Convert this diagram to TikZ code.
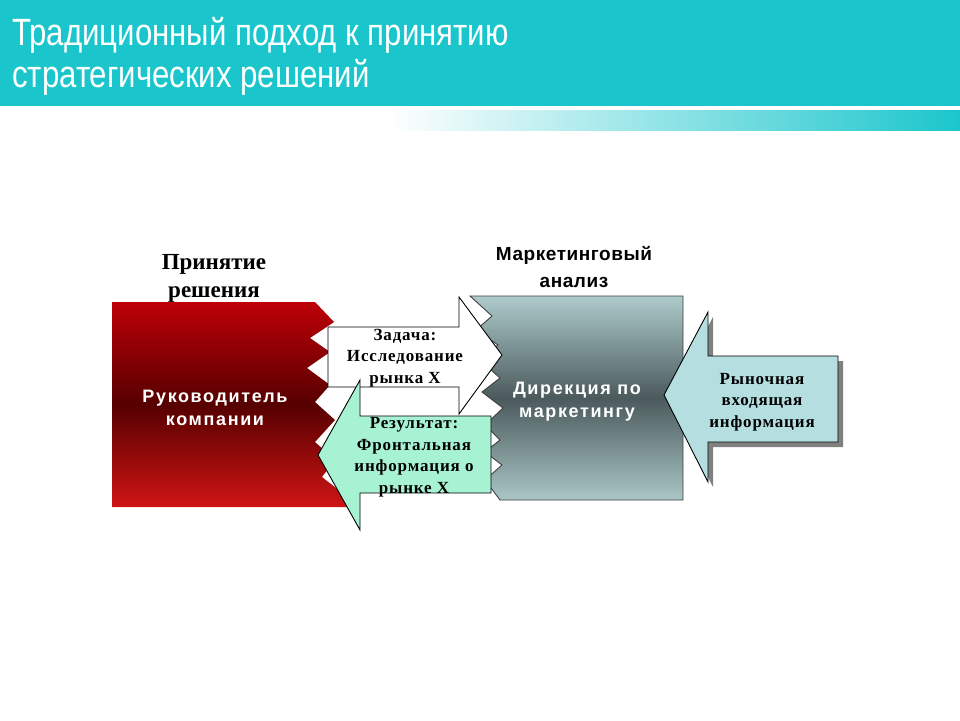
\documentclass[tikz,border=0pt]{standalone}
\usepackage{fontspec}
\setmainfont{Liberation Serif}
\setsansfont{Liberation Sans}
\newfontfamily\titlefont[FakeStretch=0.82]{Liberation Sans}
\newfontfamily\boxfont[LetterSpace=9]{Liberation Sans}
\newfontfamily\headfont[LetterSpace=3]{Liberation Sans}
\newfontfamily\arrfont[LetterSpace=5]{Liberation Serif}
\definecolor{teal1}{HTML}{1AC6CC}
\definecolor{redtop}{HTML}{BE0008}
\definecolor{reddark}{HTML}{560000}
\definecolor{redbot}{HTML}{D01414}
\definecolor{graytop}{HTML}{AECBCC}
\definecolor{graydark}{HTML}{4B5A5C}
\definecolor{graybot}{HTML}{AAC6C6}
\definecolor{mint}{HTML}{A8F2D4}
\definecolor{paleblue}{HTML}{B4DEE0}
\tikzset{
  titletext/.style={anchor=base west, text=white, inner sep=0pt, font=\titlefont\fontsize{38}{44}\selectfont},
  boxtext/.style={align=center, text=white, inner sep=0pt, font=\boxfont\bfseries\fontsize{18}{23}\selectfont},
  arrtext/.style={align=center, text=black, inner sep=0pt, font=\arrfont\bfseries\fontsize{17}{21.5}\selectfont},
  arrshape/.style={draw=black, line width=0.9pt, line join=miter},
}
\begin{document}
\begin{tikzpicture}[x=1pt,y=-1pt]
\useasboundingbox (0,0) rectangle (960,720);
\fill[white] (0,0) rectangle (960,720);
% header
\fill[teal1] (0,0) rectangle (960,106);
\shade[left color=white, right color=teal1] (390,110) rectangle (960,130);
\node[titletext] (t1) at (12,45) {Традиционный подход к принятию};
\node[titletext] (t2) at (12,87) {стратегических решений};
% headings
\node[align=center, inner sep=0pt, font=\bfseries\fontsize{23}{28}\selectfont] (h1) at (214,278) {Принятие\\решения};
\node[align=center, inner sep=0pt, font=\headfont\bfseries\fontsize{19}{27}\selectfont] (h2) at (574,267) {Маркетинговый\\анализ};
% red box
\shade[top color=redtop, bottom color=redbot, middle color=reddark]
  (112,302) -- (315,302) -- (334,322) -- (310,338) -- (330,352) -- (307,368) -- (330,385)
  -- (315,402) -- (335,420) -- (315,442) -- (335,460) -- (322,477) -- (345,495) -- (350,507)
  -- (112,507) -- cycle;
\node[boxtext] (ruk) at (215,408) {Руководитель\\компании};
% gray box
\shade[top color=graytop, bottom color=graybot, middle color=graydark]
  (470,296) -- (683,296) -- (683,500) -- (500,500) -- (485,480) -- (502,465) -- (485,452)
  -- (500,440) -- (485,425) -- (503,408) -- (482,392) -- (500,378) -- (480,360) -- (498,345)
  -- (476,330) -- (492,316) -- cycle;
\draw[color=black!75, line width=0.9pt]
  (470,296) -- (683,296) -- (683,500) -- (500,500) -- (485,480) -- (502,465) -- (485,452)
  -- (500,440) -- (485,425) -- (503,408) -- (482,392) -- (500,378) -- (480,360) -- (498,345)
  -- (476,330) -- (492,316) -- cycle;
\node[boxtext] (dir) at (577,402) {Дирекция по\\маркетингу};
% white arrow (task)
\filldraw[arrshape, fill=white] (328,327) -- (459,327) -- (459,297) -- (502,355) -- (459,414) -- (459,387) -- (328,387) -- cycle;
\node[arrtext] (task) at (405,358) {Задача:\\Исследование\\рынка Х};
% green arrow (result)
\filldraw[arrshape, fill=mint] (491,416) -- (360,416) -- (360,380) -- (318,455) -- (360,530) -- (360,493) -- (491,493) -- cycle;
\node[arrtext] (res) at (414,457) {Результат:\\Фронтальная\\информация о\\рынке Х};
% right arrow (market info)
\fill[black!50] (669,400) -- (713,317) -- (713,361) -- (843,361) -- (843,447) -- (713,447) -- (713,487) -- cycle;
\filldraw[arrshape, fill=paleblue] (664,395) -- (708,312) -- (708,356) -- (838,356) -- (838,442) -- (708,442) -- (708,482) -- cycle;
\node[arrtext] (mkt) at (762,402) {Рыночная\\входящая\\информация};
\end{tikzpicture}
\end{document}
